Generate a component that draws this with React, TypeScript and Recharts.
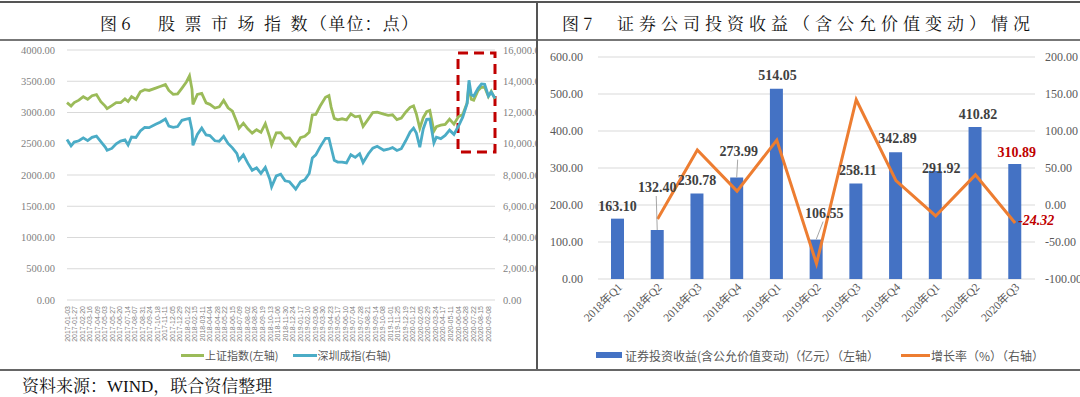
import React from 'react';
import {
  LineChart, Line, XAxis, YAxis, CartesianGrid, Legend, ReferenceArea,
  ComposedChart, Bar, LabelList,
} from 'recharts';

// ---------- Figure 6 data ----------
const indexDates = [
  '2017-01-03','2017-01-16','2017-01-26','2017-02-10','2017-02-24','2017-03-10','2017-03-24','2017-04-07','2017-04-21','2017-05-05',
  '2017-05-11','2017-05-26','2017-06-09','2017-06-23','2017-07-07','2017-07-17','2017-07-28','2017-08-11','2017-08-25','2017-09-08',
  '2017-09-22','2017-10-13','2017-10-27','2017-11-13','2017-11-24','2017-12-08','2017-12-22','2018-01-05','2018-01-19','2018-01-29',
  '2018-02-06','2018-02-09','2018-02-23','2018-03-09','2018-03-23','2018-04-04','2018-04-20','2018-05-04','2018-05-18','2018-06-01',
  '2018-06-15','2018-06-29','2018-07-06','2018-07-20','2018-08-03','2018-08-17','2018-08-31','2018-09-14','2018-09-28','2018-10-12',
  '2018-10-18','2018-11-02','2018-11-16','2018-11-30','2018-12-14','2018-12-28','2019-01-03','2019-01-18','2019-02-01','2019-02-15',
  '2019-02-25','2019-03-08','2019-03-22','2019-04-08','2019-04-19','2019-04-26','2019-05-06','2019-05-17','2019-05-31','2019-06-14',
  '2019-06-28','2019-07-12','2019-07-26','2019-08-06','2019-08-23','2019-09-06','2019-09-20','2019-10-11','2019-10-25','2019-11-08',
  '2019-11-22','2019-12-06','2019-12-20','2020-01-03','2020-01-14','2020-01-23','2020-02-03','2020-02-14','2020-02-25','2020-03-06',
  '2020-03-19','2020-03-27','2020-04-10','2020-04-24','2020-05-08','2020-05-22','2020-06-05','2020-06-19','2020-07-03','2020-07-09',
  '2020-07-16','2020-07-24','2020-08-07','2020-08-18','2020-08-28','2020-09-09','2020-09-18','2020-09-30',
];
const shanghaiValues = [
  3159,3104,3159,3197,3253,3212,3269,3287,3173,3103,
  3061,3110,3158,3157,3218,3176,3254,3209,3332,3365,
  3353,3391,3417,3447,3353,3290,3297,3391,3488,3587,
  3371,3130,3290,3307,3153,3131,3071,3091,3193,3075,
  3022,2847,2747,2829,2740,2669,2725,2682,2821,2606,
  2486,2676,2679,2588,2594,2494,2464,2596,2618,2682,
  2961,2969,3104,3244,3271,3086,2906,2882,2899,2882,
  2979,2930,2944,2778,2897,2999,3006,2973,2954,2964,
  2886,2912,3004,3083,3106,2976,2746,2917,3013,3034,
  2702,2772,2797,2808,2895,2814,2931,2967,3152,3451,
  3211,3197,3354,3407,3404,3255,3338,3218,
];
const shenzhenValues = [
  10278,9870,10110,10190,10380,10200,10410,10490,10140,9790,
  9580,9700,10000,10170,10250,9920,10430,10400,10820,11050,
  11030,11250,11380,11580,11130,11050,11100,11500,11570,11620,
  10850,9900,10600,11000,10560,10520,10190,10160,10470,10020,
  9740,9380,8950,9290,8760,8300,8460,8100,8480,7750,
  7240,7940,8050,7630,7570,7240,7090,7560,7690,8100,
  9090,9290,9800,10350,10350,9760,8940,8830,8820,8770,
  9300,9130,9360,8800,9360,9720,9840,9590,9650,9750,
  9570,9680,10190,10750,11000,10680,9780,10950,11560,11580,
  10050,10420,10330,10530,10870,10600,11120,11700,12580,14060,
  13150,13050,13550,13830,13810,13060,13300,12907,
];
const dateTickLabels = [
  '2017-01-03','2017-01-27','2017-02-20','2017-03-16','2017-04-09','2017-05-03','2017-05-27','2017-06-20','2017-07-14','2017-08-07',
  '2017-08-31','2017-09-24','2017-10-18','2017-11-11','2017-12-05','2017-12-29','2018-01-22','2018-02-15','2018-03-11','2018-04-04',
  '2018-04-28','2018-05-22','2018-06-15','2018-07-09','2018-08-02','2018-08-26','2018-09-19','2018-10-13','2018-11-06','2018-11-30',
  '2018-12-24','2019-01-17','2019-02-10','2019-03-06','2019-03-30','2019-04-23','2019-05-17','2019-06-10','2019-07-04','2019-07-28',
  '2019-08-21','2019-09-14','2019-10-08','2019-11-01','2019-11-25','2019-12-19','2020-01-12','2020-02-05','2020-02-29','2020-03-24',
  '2020-04-17','2020-05-11','2020-06-04','2020-06-28','2020-07-22','2020-08-15','2020-09-08',
];
const shanghaiTicks = [0, 500, 1000, 1500, 2000, 2500, 3000, 3500, 4000];
const shenzhenTicks = [0, 2000, 4000, 6000, 8000, 10000, 12000, 14000, 16000];
const highlightStart = '2020-06-04';
const highlightEnd = '2020-09-30';
const highlightLow = 2368;
const highlightHigh = 3952;

// ---------- Figure 7 data ----------
const quarters = ['2018年Q1','2018年Q2','2018年Q3','2018年Q4','2019年Q1','2019年Q2','2019年Q3','2019年Q4','2020年Q1','2020年Q2','2020年Q3'];
const investmentIncome = [163.10, 132.40, 230.78, 273.99, 514.05, 106.55, 258.11, 342.89, 291.92, 410.82, 310.89];
const growthRate = [null, -18.82, 74.30, 18.72, 87.62, -79.27, 142.24, 32.85, -14.86, 40.73, -24.32];
const incomeTicks = [0, 100, 200, 300, 400, 500, 600];
const growthTicks = [-100, -50, 0, 50, 100, 150, 200];

// label placement (positions only)
const incomeLabelOffsets = [
  { dx: 0, dy: 0, leader: false },
  { dx: 0, dy: -30, leader: true },
  { dx: 0, dy: -1, leader: false },
  { dx: 2, dy: -14, leader: true },
  { dx: 1, dy: -1, leader: false },
  { dx: 8, dy: -14, leader: true },
  { dx: 2, dy: 0, leader: false },
  { dx: 2, dy: -1, leader: false },
  { dx: 6, dy: 10, leader: false },
  { dx: 3, dy: 0, leader: false },
  { dx: 2, dy: 1, leader: false },
];

const SERIF = "'Liberation Serif', 'Noto Sans CJK SC', serif";
const SANS = "'Noto Sans CJK SC', 'Liberation Sans', sans-serif";
const CJK = "'Noto Serif CJK SC', 'Noto Sans CJK SC', serif";

const indexData = indexDates.map((d, i) => ({ t: Date.parse(d), sh: shanghaiValues[i], sz: shenzhenValues[i] }));
const incomeData = quarters.map((q, i) => ({ q, income: investmentIncome[i], growth: growthRate[i] }));

const fmtDate = (v: number) => new Date(v).toISOString().slice(0, 10);

const DateTick = (props: any) => {
  const { x, y, payload } = props;
  const yy = y + 6;
  return (
    <text x={x} y={yy} transform={`rotate(-90 ${x} ${yy})`} textAnchor="end" dominantBaseline="central"
      fontSize={7} fill="#808080" fontFamily="'Liberation Sans', sans-serif">
      {fmtDate(payload.value)}
    </text>
  );
};

const QuarterTick = (props: any) => {
  const { x, y, payload } = props;
  const px = x + 5;
  const py = y + 9;
  return (
    <text x={px} y={py} transform={`rotate(-45 ${px} ${py})`} textAnchor="end"
      fontSize={11.5} fill="#595959" fontFamily={SERIF}>
      {payload.value}
    </text>
  );
};

const IndexLegend = () => (
  <div style={{ display: 'flex', justifyContent: 'center', alignItems: 'center', height: 20, paddingLeft: 12,
    fontFamily: SANS, fontSize: 11, color: '#595959' }}>
    <span style={{ display: 'inline-block', width: 23, height: 3, background: '#9BBB59' }} />
    <span style={{ marginLeft: 1 }}>上证指数(左轴)</span>
    <span style={{ display: 'inline-block', width: 24, height: 3, background: '#4BACC6', marginLeft: 14 }} />
    <span style={{ marginLeft: 1 }}>深圳成指(右轴)</span>
  </div>
);

const IncomeLegend = () => (
  <div style={{ display: 'flex', justifyContent: 'center', alignItems: 'center', height: 20, paddingLeft: 20,
    fontFamily: SANS, fontSize: 12, color: '#595959' }}>
    <span style={{ display: 'inline-block', width: 26, height: 6, background: '#4472C4' }} />
    <span style={{ marginLeft: 3 }}>证券投资收益(含公允价值变动)（亿元）（左轴）</span>
    <span style={{ display: 'inline-block', width: 29, height: 3, background: '#ED7D31', marginLeft: 22 }} />
    <span style={{ marginLeft: 1 }}>增长率（%）（右轴）</span>
  </div>
);

const renderIncomeLabel = (props: any) => {
  const vb = props.viewBox || {};
  const x = props.x ?? vb.x;
  const y = props.y ?? vb.y;
  const width = props.width ?? vb.width;
  const { value, index } = props;
  const off = incomeLabelOffsets[index] || { dx: 0, dy: 0, leader: false };
  const bx = x + width / 2;
  const cx = bx + off.dx;
  const baseY = y - 8 + off.dy;
  return (
    <g key={`il-${index}`}>
      {off.leader && <line x1={bx} y1={y} x2={cx - 1} y2={baseY + 4} stroke="#A6A6A6" strokeWidth={1} />}
      <text x={cx} y={baseY} textAnchor="middle" fontSize={14} fontWeight="bold" fontFamily={SERIF}
        fill={index === quarters.length - 1 ? '#C00000' : '#404040'}>
        {Number(value).toFixed(2)}
      </text>
    </g>
  );
};

const renderGrowthLabel = (props: any) => {
  const vb = props.viewBox || {};
  const x = props.x ?? vb.x;
  const y = props.y ?? vb.y;
  const { value, index } = props;
  if (index !== quarters.length - 1) return null;
  return (
    <text key="gl" x={x + 3} y={y + 2} textAnchor="start" fontSize={14} fontWeight="bold" fontStyle="italic"
      fontFamily={SERIF} fill="#C00000">
      {Number(value).toFixed(2)}
    </text>
  );
};

export default function App() {
  const start = Date.parse(indexDates[0]);
  const end = Date.parse(indexDates[indexDates.length - 1]);
  return (
    <div style={{ position: 'absolute', left: 0, top: 0, width: 1080, height: 397, overflow: 'hidden', background: '#fff' }}>
      {/* frame lines */}
      <div style={{ position: 'absolute', left: 0, top: 1, width: 1080, height: 2, background: '#555' }} />
      <div style={{ position: 'absolute', left: 0, top: 39, width: 1080, height: 1.5, background: '#777' }} />
      <div style={{ position: 'absolute', left: 536, top: 1, width: 1.5, height: 370, background: '#555' }} />
      <div style={{ position: 'absolute', left: 0, top: 369, width: 1080, height: 2, background: '#666' }} />

      {/* titles */}
      <div style={{ position: 'absolute', left: 100, top: 12, fontFamily: CJK, fontSize: 17, color: '#111', whiteSpace: 'nowrap', lineHeight: '22px' }}>
        <span>图 6</span>
        <span style={{ position: 'absolute', left: 58, letterSpacing: 9.5 }}>股票市场指数</span>
        <span style={{ position: 'absolute', left: 210, letterSpacing: 1.2 }}>（单位：点）</span>
      </div>
      <div style={{ position: 'absolute', left: 562, top: 12, fontFamily: CJK, fontSize: 17, color: '#111', whiteSpace: 'nowrap', lineHeight: '22px' }}>
        <span>图 7</span>
        <span style={{ position: 'absolute', left: 55, letterSpacing: 5 }}>证券公司投资收益（含公允价值变动）情况</span>
      </div>

      {/* Figure 6 */}
      <div style={{ position: 'absolute', left: 0, top: 0, width: 536, height: 370, overflow: 'hidden' }}>
        <LineChart width={560} height={370} data={indexData} margin={{ top: 50, right: 0, left: 0, bottom: 5 }}>
          <CartesianGrid yAxisId="left" vertical={false} stroke="#D9D9D9" strokeWidth={1} />
          <XAxis dataKey="t" type="number" domain={[start, end]} ticks={dateTickLabels.map((d) => Date.parse(d))}
            interval={0} tick={<DateTick />} axisLine={false} tickLine={false} height={45} tickSize={0} tickMargin={0} />
          <YAxis yAxisId="left" orientation="left" domain={[0, 4000]} ticks={shanghaiTicks} width={67}
            axisLine={false} tickLine={false} tickSize={0} tickMargin={12}
            tick={{ fontSize: 10.5, fill: '#7f7f7f', fontFamily: SERIF }}
            tickFormatter={(v: number) => v.toFixed(2)} />
          <YAxis yAxisId="right" orientation="right" domain={[0, 16000]} ticks={shenzhenTicks} width={65}
            axisLine={false} tickLine={false} tickSize={0} tickMargin={8}
            tick={{ fontSize: 10.5, fill: '#7f7f7f', fontFamily: SERIF, textAnchor: 'start' }}
            tickFormatter={(v: number) => v.toLocaleString('en-US', { minimumFractionDigits: 2, maximumFractionDigits: 2 })} />
          <Line yAxisId="left" type="linear" dataKey="sh" stroke="#9BBB59" strokeWidth={2.8} dot={false} isAnimationActive={false} />
          <Line yAxisId="right" type="linear" dataKey="sz" stroke="#4BACC6" strokeWidth={2.8} dot={false} isAnimationActive={false} />
          <ReferenceArea yAxisId="left" x1={Date.parse(highlightStart)} x2={Date.parse(highlightEnd)}
            y1={highlightLow} y2={highlightHigh} fill="none" fillOpacity={0} stroke="#C00000" strokeWidth={3}
            strokeDasharray="10 6" ifOverflow="visible" />
          <Legend verticalAlign="bottom" content={<IndexLegend />} />
        </LineChart>
      </div>

      {/* Figure 7 */}
      <div style={{ position: 'absolute', left: 540, top: 0, width: 540, height: 370, overflow: 'hidden' }}>
        <ComposedChart width={540} height={370} data={incomeData} margin={{ top: 57, right: 0, left: 0, bottom: 5 }}>
          <CartesianGrid yAxisId="left" vertical={false} stroke="#D9D9D9" strokeWidth={1} />
          <XAxis dataKey="q" type="category" interval={0} tick={<QuarterTick />} axisLine={false} tickLine={false}
            height={66} tickSize={0} tickMargin={0} />
          <YAxis yAxisId="left" orientation="left" domain={[0, 600]} ticks={incomeTicks} width={58}
            axisLine={false} tickLine={false} tickSize={0} tickMargin={15}
            tick={{ fontSize: 12, fill: '#595959', fontFamily: SERIF }}
            tickFormatter={(v: number) => v.toFixed(2)} />
          <YAxis yAxisId="right" orientation="right" domain={[-100, 200]} ticks={growthTicks} width={45}
            axisLine={false} tickLine={false} tickSize={0} tickMargin={10}
            tick={{ fontSize: 12, fill: '#595959', fontFamily: SERIF, textAnchor: 'start' }}
            tickFormatter={(v: number) => v.toFixed(2)} />
          <Bar yAxisId="left" dataKey="income" fill="#4472C4" barSize={13} isAnimationActive={false}>
            <LabelList dataKey="income" content={renderIncomeLabel} />
          </Bar>
          <Line yAxisId="right" type="linear" dataKey="growth" stroke="#ED7D31" strokeWidth={3} dot={false}
            isAnimationActive={false}>
            <LabelList dataKey="growth" content={renderGrowthLabel} />
          </Line>
          <Legend verticalAlign="bottom" content={<IncomeLegend />} />
        </ComposedChart>
      </div>

      {/* source */}
      <div style={{ position: 'absolute', left: 22, top: 375, fontFamily: CJK, fontSize: 17, color: '#111', whiteSpace: 'nowrap', lineHeight: '20px' }}>
        资料来源：<span style={{ fontFamily: SERIF }}>WIND</span>，联合资信整理
      </div>
    </div>
  );
}
